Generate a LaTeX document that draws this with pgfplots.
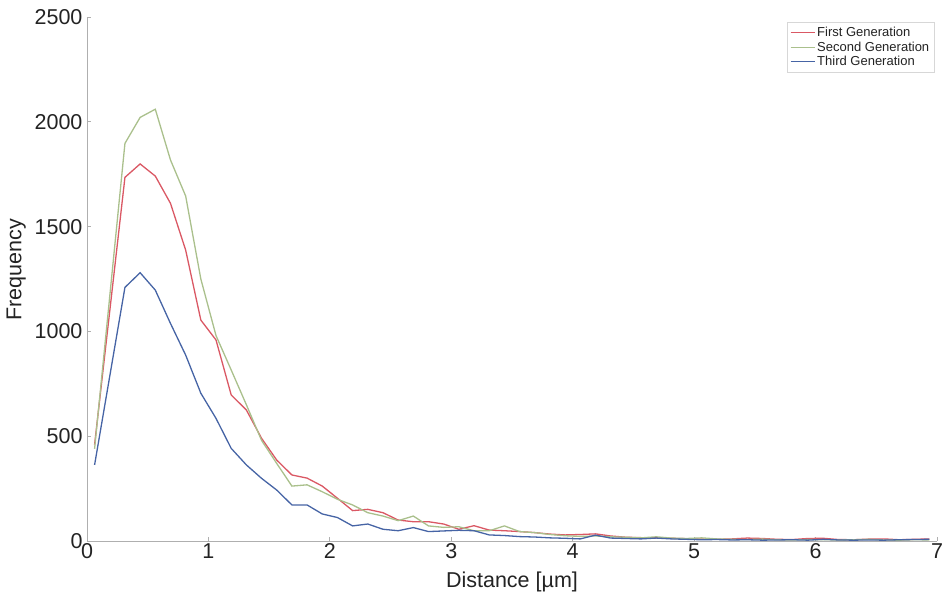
\documentclass[border=0pt]{standalone}
\usepackage{pgfplots}
\pgfplotsset{compat=1.18}
\usepackage{fontspec}
\setmainfont{Liberation Sans}
\definecolor{cRed}{RGB}{218,88,100}
\definecolor{cGreen}{RGB}{170,192,140}
\definecolor{cBlue}{RGB}{70,100,165}
\definecolor{axgray}{RGB}{175,175,175}
\definecolor{txt}{RGB}{35,35,35}
\begin{document}
\begin{tikzpicture}
\path[use as bounding box] (-87pt,-54pt) rectangle (856pt,541pt);
\begin{axis}[
  scale only axis, width=850pt, height=524pt,
  xmin=0, xmax=7, ymin=0, ymax=2500,
  axis x line*=bottom, axis y line*=left,
  axis line style={axgray, line width=0.8pt},
  xtick={0,1,...,7}, ytick={0,500,...,2500},
  tick align=inside, major tick length=4pt,
  tick style={axgray, line width=0.8pt},
  /pgf/number format/assume math mode=true,
  /pgf/number format/1000 sep={},
  ticklabel style={font=\fontsize{21.5}{23}\selectfont, text=txt},
  yticklabel style={xshift=-1pt},
  xticklabel style={yshift=1pt},
  xlabel={Distance [µm]}, ylabel={Frequency},
  label style={font=\fontsize{21.5}{23}\selectfont, text=txt},
  xlabel style={yshift=-6pt},
  ylabel style={yshift=2pt, xshift=9pt},
  legend style={at={(axis description cs:0.997,0.99)}, anchor=north east,
    draw=axgray!50, font=\fontsize{13}{14}\selectfont, text=txt,
    row sep=-0.5pt, inner xsep=3pt, inner ysep=3pt},
  legend cell align=left,
  legend image code/.code={\draw[#1, line width=1pt] (0pt,0pt) -- (24pt,0pt);},
  every axis plot/.append style={line width=1.3pt, mark=none},
  clip=false,
]
\addplot[cRed] coordinates {
(0.0625,460)(0.3125,1735)(0.4375,1799)(0.5625,1741)(0.6875,1611)(0.8125,1388)
(0.9375,1054)(1.0625,959)(1.1875,697)(1.3125,625)(1.4375,490)(1.5625,386)
(1.6875,315)(1.8125,300)(1.9375,262)(2.0625,204)(2.1875,145)(2.3125,151)
(2.4375,135)(2.5625,100)(2.6875,92)(2.8125,92)(2.9375,81)(3.0625,56)
(3.1875,73)(3.3125,52)(3.4375,49)(3.5625,45)(3.6875,40)(3.8125,33)
(3.9375,29)(4.0625,31)(4.1875,34)(4.3125,24)(4.4375,18)(4.5625,16)
(4.6875,15)(4.8125,13)(4.9375,11)(5.0625,9)(5.1875,8)(5.3125,10)
(5.4375,14)(5.5625,12)(5.6875,8)(5.8125,7)(5.9375,12)(6.0625,13)
(6.1875,7)(6.3125,6)(6.4375,9)(6.5625,10)(6.6875,6)(6.8125,8)(6.9375,10)
};
\addplot[cGreen] coordinates {
(0.0625,440)(0.3125,1897)(0.4375,2021)(0.5625,2060)(0.6875,1818)(0.8125,1646)
(0.9375,1250)(1.0625,980)(1.1875,816)(1.3125,650)(1.4375,480)(1.5625,370)
(1.6875,262)(1.8125,268)(1.9375,235)(2.0625,199)(2.1875,172)(2.3125,135)
(2.4375,119)(2.5625,97)(2.6875,119)(2.8125,72)(2.9375,65)(3.0625,68)
(3.1875,49)(3.3125,49)(3.4375,72)(3.5625,45)(3.6875,40)(3.8125,31)
(3.9375,25)(4.0625,22)(4.1875,24)(4.3125,20)(4.4375,18)(4.5625,15)
(4.6875,20)(4.8125,14)(4.9375,12)(5.0625,15)(5.1875,10)(5.3125,8)
(5.4375,7)(5.5625,9)(5.6875,6)(5.8125,5)(5.9375,7)(6.0625,6)
(6.1875,5)(6.3125,6)(6.4375,8)(6.5625,5)(6.6875,4)(6.8125,6)(6.9375,5)
};
\addplot[cBlue] coordinates {
(0.0625,363)(0.3125,1210)(0.4375,1280)(0.5625,1197)(0.6875,1038)(0.8125,887)
(0.9375,705)(1.0625,585)(1.1875,442)(1.3125,363)(1.4375,299)(1.5625,243)
(1.6875,172)(1.8125,172)(1.9375,129)(2.0625,112)(2.1875,72)(2.3125,81)
(2.4375,56)(2.5625,49)(2.6875,64)(2.8125,45)(2.9375,48)(3.0625,51)
(3.1875,49)(3.3125,29)(3.4375,26)(3.5625,21)(3.6875,19)(3.8125,15)
(3.9375,13)(4.0625,10)(4.1875,28)(4.3125,14)(4.4375,12)(4.5625,10)
(4.6875,14)(4.8125,10)(4.9375,8)(5.0625,6)(5.1875,7)(5.3125,5)
(5.4375,6)(5.5625,4)(5.6875,5)(5.8125,6)(5.9375,4)(6.0625,8)
(6.1875,5)(6.3125,4)(6.4375,5)(6.5625,4)(6.6875,6)(6.8125,7)(6.9375,8)
};
\legend{First Generation, Second Generation, Third Generation}
\end{axis}
\end{tikzpicture}
\end{document}
